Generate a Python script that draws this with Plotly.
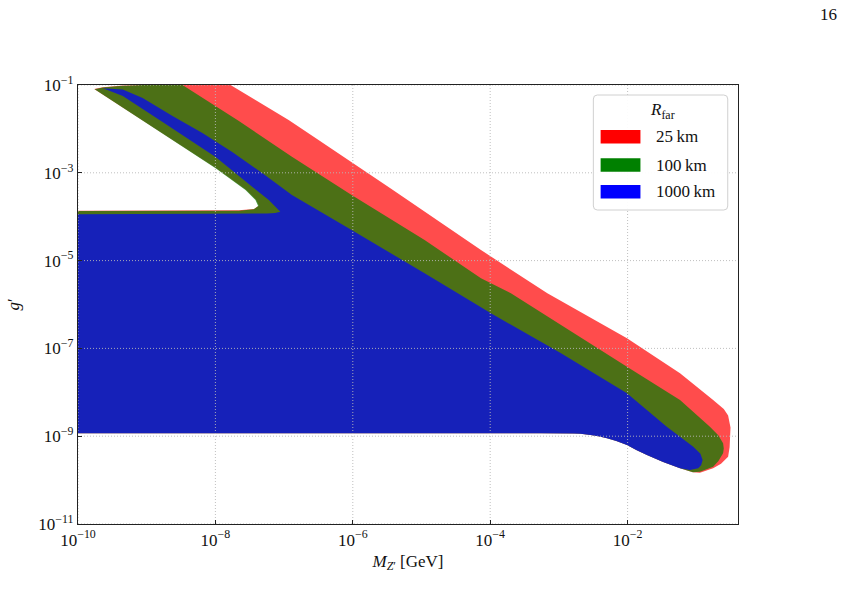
import numpy as np
import plotly.graph_objects as go

# ---------------- data (log10 of M_Z' [GeV] and log10 of g') -----------------
radii = ["25\u2009km", "100\u2009km", "1000\u2009km"]
fill_colors = ["rgba(255,0,0,0.7)", "rgba(0,128,0,0.7)", "rgba(0,0,255,0.7)"]
legend_colors = ["#ff0000", "#008000", "#0000ff"]

# shared lower boundary (right to left)
lower_logm = [-1.237, -1.483, -1.719, -1.874, -2.009, -2.164, -2.299, -2.425, -2.541,
              -2.685, -2.782, -3.265, -10.0]
lower_logg = [-9.731, -9.588, -9.428, -9.314, -9.200, -9.109, -9.048, -9.000, -8.973,
              -8.945, -8.938, -8.934, -8.934]

# R_far = 25 km
red_upper_logm = [-9.06, -7.83, -7.78, -7.417, -6.934, -6.499, -5.437, -4.134, -3.168,
                  -2.009, -1.237, -0.755, -0.600, -0.537, -0.502, -0.515, -0.537, -0.640,
                  -0.755, -0.947, -1.05]
red_upper_logg = [-0.95, -0.95, -1.0, -1.342, -1.797, -2.253, -3.369, -4.759, -5.745,
                  -6.770, -7.567, -8.175, -8.380, -8.530, -8.800, -9.250, -9.467, -9.630,
                  -9.731, -9.831, -9.82]
red_hole_logm = [-10.0, -7.658, -7.438, -7.368, -7.408, -7.555, -7.992, -9.764, -9.638, -9.348, -9.06]
red_hole_logg = [-3.862, -3.855, -3.824, -3.752, -3.613, -3.385, -2.888, -1.092, -1.054, -1.014, -1.0]

# R_far = 100 km
green_upper_logm = [-9.06, -8.53, -8.479, -7.658, -6.886, -6.017, -4.955, -4.134, -3.699,
                    -2.009, -1.237, -0.802, -0.680, -0.610, -0.600, -0.610, -0.680, -0.755,
                    -0.947, -1.05]
green_upper_logg = [-0.95, -0.95, -1.0, -1.820, -2.633, -3.506, -4.531, -5.403, -5.745,
                    -7.417, -8.175, -8.784, -8.980, -9.162, -9.280, -9.390, -9.570, -9.695,
                    -9.809, -9.82]
green_hole_logm = [-10.0, -7.658, -7.441, -7.378, -7.417, -7.562, -7.997, -9.758, -9.638, -9.348, -9.06]
green_hole_logg = [-3.870, -3.863, -3.831, -3.756, -3.620, -3.392, -2.897, -1.098, -1.057, -1.016, -1.0]

# R_far = 1000 km
blue_upper_logm = [-9.638, -9.348, -9.059, -8.624, -8.189, -7.755, -7.320, -6.886, -6.017,
                   -4.955, -3.989, -2.975, -2.009, -1.430, -1.044, -0.940, -0.908, -0.930,
                   -0.972, -1.092]
blue_upper_logg = [-1.075, -1.103, -1.296, -1.706, -2.093, -2.526, -3.005, -3.506, -4.303,
                   -5.289, -6.200, -7.105, -8.023, -8.784, -9.239, -9.400, -9.542, -9.660,
                   -9.731, -9.770]
blue_hole_logm = [-10.0, -7.248, -7.132, -7.055, -7.223, -7.465, -7.997, -8.769, -9.348]
blue_hole_logg = [-3.945, -3.927, -3.916, -3.886, -3.620, -3.317, -2.640, -1.843, -1.251]

regions = [
    (red_upper_logm, red_upper_logg, red_hole_logm, red_hole_logg),
    (green_upper_logm, green_upper_logg, green_hole_logm, green_hole_logg),
    (blue_upper_logm, blue_upper_logg, blue_hole_logm, blue_hole_logg),
]

x_tick_exp = [-10, -8, -6, -4, -2]
y_tick_exp = [-11, -9, -7, -5, -3, -1]
x_range = [-10, -0.393]
y_range = [-11, -1]

# ---------------- figure -----------------
fig = go.Figure()
for (um, ug, hm, hg), col in zip(regions, fill_colors):
    lm = um + lower_logm + hm
    lg = ug + lower_logg + hg
    fig.add_trace(go.Scatter(
        x=10 ** np.array(lm), y=10 ** np.array(lg),
        mode="none", fill="toself", fillcolor=col,
        hoverinfo="skip", showlegend=False))

# grid lines on top of the filled regions
grid_style = dict(color="#b8b8b8", width=0.9, dash="1px,2px")
for e in x_tick_exp:
    fig.add_trace(go.Scatter(x=[10.0 ** e, 10.0 ** e], y=[10.0 ** y_range[0], 10.0 ** y_range[1]],
                             mode="lines", line=grid_style, hoverinfo="skip", showlegend=False))
for e in y_tick_exp:
    fig.add_trace(go.Scatter(x=[10.0 ** x_range[0], 10.0 ** x_range[1]], y=[10.0 ** e, 10.0 ** e],
                             mode="lines", line=grid_style, hoverinfo="skip", showlegend=False))

font_family = "Liberation Serif, DejaVu Serif, serif"

def sup_label(e):
    return "10<sup>\u2212%d</sup>" % abs(e)

axis_common = dict(
    type="log", showgrid=False, zeroline=False,
    showline=True, linecolor="#222", linewidth=1.2, mirror=True,
    ticks="inside", ticklen=4, tickcolor="#222", tickwidth=1,
    layer="above traces",
    tickfont=dict(family=font_family, size=17, color="#111"),
)

fig.update_xaxes(
    range=x_range, tickvals=[10.0 ** e for e in x_tick_exp],
    ticktext=[sup_label(e) for e in x_tick_exp],
    title=dict(text="<i>M</i><sub><i>Z</i>\u2032</sub> [GeV]",
               font=dict(family=font_family, size=17, color="#111"), standoff=6),
    **axis_common)
fig.update_yaxes(
    range=y_range, tickvals=[10.0 ** e for e in y_tick_exp],
    ticktext=[sup_label(e) for e in y_tick_exp],
    title=dict(text="<i>g</i>\u2032",
               font=dict(family=font_family, size=17, color="#111"), standoff=14),
    **axis_common)

# legend (drawn by hand to match the wide patches)
W, H = 663.0, 439.0
def px2x(px):
    return (px - 75.0) / W
def py2y(py):
    return (524.0 - py) / H

bx0, bx1, by0, by1 = px2x(592.7), px2x(727.7), py2y(210), py2y(95)
rx, ry = 4 / W, 4 / H
box_path = (f"M{bx0+rx},{by0} L{bx1-rx},{by0} Q{bx1},{by0} {bx1},{by0+ry} "
            f"L{bx1},{by1-ry} Q{bx1},{by1} {bx1-rx},{by1} L{bx0+rx},{by1} "
            f"Q{bx0},{by1} {bx0},{by1-ry} L{bx0},{by0+ry} Q{bx0},{by0} {bx0+rx},{by0} Z")
shapes = [dict(type="path", xref="paper", yref="paper", path=box_path,
               fillcolor="rgba(255,255,255,0.95)", line=dict(color="#d0d0d0", width=1),
               layer="above")]
annotations = [dict(text="<i>R</i><sub>far</sub>", xref="paper", yref="paper",
                    x=px2x(661.7), y=py2y(111), showarrow=False,
                    font=dict(family=font_family, size=17, color="#111"),
                    xanchor="center", yanchor="middle")]
row_centers = [136.7, 165.0, 191.7]
for lab, col, yc in zip(radii, legend_colors, row_centers):
    shapes.append(dict(type="rect", xref="paper", yref="paper",
                       x0=px2x(600), x1=px2x(640), y0=py2y(yc + 6.7), y1=py2y(yc - 6.7),
                       fillcolor=col, line=dict(width=0), layer="above"))
    annotations.append(dict(text=lab, xref="paper", yref="paper", x=px2x(654), y=py2y(yc),
                            showarrow=False, xanchor="left", yanchor="middle",
                            font=dict(family=font_family, size=17, color="#111")))

# page number
annotations.append(dict(text="16", xref="paper", yref="paper", x=px2x(829), y=py2y(15),
                        showarrow=False, xanchor="center", yanchor="middle",
                        font=dict(family=font_family, size=17, color="#111")))

fig.update_layout(
    width=844, height=609,
    margin=dict(l=75, r=106, t=85, b=85),
    paper_bgcolor="white", plot_bgcolor="white",
    shapes=shapes, annotations=annotations,
    showlegend=False,
)

fig.write_html("out.html")
